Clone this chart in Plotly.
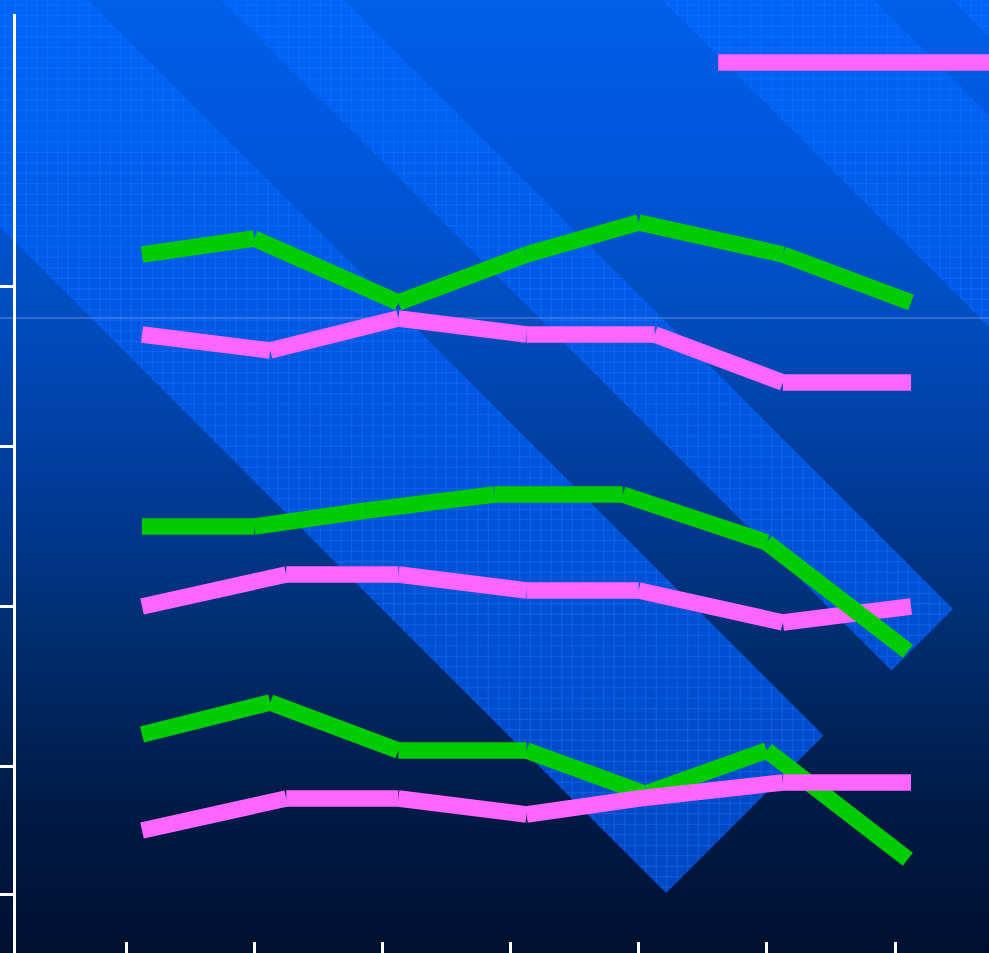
import plotly.graph_objects as go

# ---------------- data (x in tick units, y in axis units) ----------------
x_ticks = [0, 1, 2, 3, 4, 5, 6]
y_ticks = [0.2, 1, 2, 3, 4]

green1_x = [0.125, 1.0, 2.125, 3.125, 4.0, 5.125, 6.125]
green1_y = [4.2, 4.3, 3.9, 4.2, 4.4, 4.2, 3.9]
pink1_x = [0.125, 1.125, 2.125, 3.125, 4.125, 5.125, 6.125]
pink1_y = [3.7, 3.6, 3.8, 3.7, 3.7, 3.4, 3.4]
green2_x = [0.125, 1.0, 1.875, 2.875, 3.875, 5.0, 6.1]
green2_y = [2.5, 2.5, 2.6, 2.7, 2.7, 2.4, 1.72]
pink2_x = [0.125, 1.25, 2.125, 3.125, 4.0, 5.125, 6.125]
pink2_y = [2.0, 2.2, 2.2, 2.1, 2.1, 1.9, 2.0]
green3_x = [0.125, 1.125, 2.125, 3.125, 4.05, 5.0, 6.1]
green3_y = [1.2, 1.4, 1.1, 1.1, 0.83, 1.1, 0.42]
pink3_x = [0.125, 1.25, 2.125, 3.125, 4.0, 5.125, 6.125]
pink3_y = [0.6, 0.8, 0.8, 0.7, 0.8, 0.9, 0.9]
legend_x = [4.62, 7.0]
legend_y = [5.4, 5.4]

GREEN = "#00CC00"
PINK = "#FF66FF"
LW = 16.5

W, H = 989, 953

# ---------------- decorative background geometry (pixel space) ----------------
# diagonal bands defined by c = x - y range, cut by s = x + y range
bands = [(-227, 88, -800, 1559), (221, 344, -800, 1562),
         (662, 874, -800, 1560), (952, 1600, -800, 1560)]


def band_poly(c1, c2, s1, s2):
    pts = [(c1, s1), (c2, s1), (c2, s2), (c1, s2), (c1, s1)]
    return [(s + c) / 2 for c, s in pts], [(s - c) / 2 for c, s in pts]


bx, by = [], []
for b in bands:
    px, py = band_poly(*b)
    bx += px + [None]
    by += py + [None]


def segmented(xs, ys):
    """Split a polyline into separate butt-capped segments (like the original)."""
    sx, sy = [], []
    for i in range(len(xs) - 1):
        sx += [xs[i], xs[i + 1], None]
        sy += [ys[i], ys[i + 1], None]
    return sx, sy


fig = go.Figure()

# base vertical gradient
fig.add_trace(go.Scatter(
    x=[-10, W + 10, W + 10, -10, -10], y=[-10, -10, H + 10, H + 10, -10],
    mode="none", fill="toself", hoverinfo="skip", showlegend=False,
    fillgradient=dict(type="vertical", start=0, stop=H,
                      colorscale=[[0, "#005EE9"], [0.157, "#0057DC"], [0.336, "#004CBE"],
                                  [0.504, "#003C9A"], [0.672, "#002D6E"], [0.839, "#001B48"],
                                  [1, "#001030"]]),
    xaxis="x", yaxis="y"))

# lighter bands
fig.add_trace(go.Scatter(
    x=bx, y=by, mode="none", fill="toself", hoverinfo="skip", showlegend=False,
    fillgradient=dict(type="vertical", start=0, stop=H,
                      colorscale=[[0, "#0065F8"], [0.35, "#0058E4"], [0.7, "#004ED0"],
                                  [1, "#0046C0"]]),
    xaxis="x", yaxis="y"))
# grid pattern on bands
fig.add_trace(go.Scatter(
    x=bx, y=by, mode="none", fill="toself", hoverinfo="skip", showlegend=False,
    fillcolor="rgba(0,0,0,0)",
    fillpattern=dict(shape="+", size=10.5, solidity=0.13, fgcolor="#1a78ff",
                     fgopacity=0.65, bgcolor="rgba(0,0,0,0)"),
    xaxis="x", yaxis="y"))
# thin horizontal rule
fig.add_trace(go.Scatter(
    x=[0, W], y=[318, 318], mode="lines", hoverinfo="skip", showlegend=False,
    line=dict(color="rgba(120,150,220,0.85)", width=1),
    xaxis="x", yaxis="y"))

# ---------------- data lines ----------------
for xs, ys, col in [(green1_x, green1_y, GREEN), (pink1_x, pink1_y, PINK),
                    (pink2_x, pink2_y, PINK), (green2_x, green2_y, GREEN),
                    (green3_x, green3_y, GREEN), (pink3_x, pink3_y, PINK),
                    (legend_x, legend_y, PINK)]:
    sx, sy = segmented(xs, ys)
    fig.add_trace(go.Scatter(x=sx, y=sy, mode="lines", hoverinfo="skip", showlegend=False,
                             connectgaps=False,
                             line=dict(color=col, width=LW, shape="linear"),
                             xaxis="x2", yaxis="y2"))

plot_left = 16
plot_top = 14
tick0_px = 126.0
tick_step = 128.17
y0_px = 926.5
y_step = 160.0

fig.update_layout(
    width=W, height=H,
    margin=dict(l=0, r=0, t=0, b=0),
    paper_bgcolor="#001030",
    plot_bgcolor="rgba(0,0,0,0)",
    showlegend=False,
    xaxis=dict(domain=[0, 1], range=[0, W], visible=False, fixedrange=True),
    yaxis=dict(domain=[0, 1], range=[H, 0], visible=False, fixedrange=True),
    xaxis2=dict(domain=[plot_left / W, 1], anchor="y2",
                range=[(plot_left - tick0_px) / tick_step, (W - tick0_px) / tick_step],
                tickvals=x_ticks, ticks="inside", ticklen=11, tickwidth=2.5,
                tickcolor="white", showticklabels=False, showline=False,
                showgrid=False, zeroline=False),
    yaxis2=dict(domain=[0, 1 - plot_top / H], anchor="x2",
                range=[(y0_px - H) / y_step, (y0_px - plot_top) / y_step],
                tickvals=y_ticks, ticks="outside", ticklen=13, tickwidth=3,
                tickcolor="white", showticklabels=False, showline=True,
                linecolor="white", linewidth=3, showgrid=False, zeroline=False),
)

fig.write_html("out.html")
